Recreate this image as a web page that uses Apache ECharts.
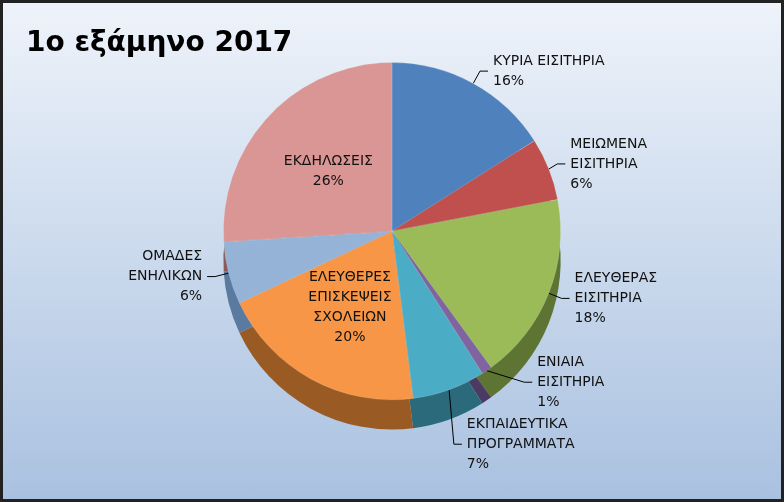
<!DOCTYPE html><html><head><meta charset="utf-8">
<script src="https://cdn.jsdelivr.net/npm/echarts@6/dist/echarts.min.js"></script>
<style>html,body{margin:0;padding:0}#c{width:784px;height:502px;box-sizing:border-box;border:3px solid #222;background:linear-gradient(#eef3fa,#a9c1e0)}</style>
</head><body><div id="c"></div><script>
const categories=['ΚΥΡΙΑ ΕΙΣΙΤΗΡΙΑ','ΜΕΙΩΜΕΝΑ\nΕΙΣΙΤΗΡΙΑ','ΕΛΕΥΘΕΡΑΣ\nΕΙΣΙΤΗΡΙΑ','ΕΝΙΑΙΑ\nΕΙΣΙΤΗΡΙΑ','ΕΚΠΑΙΔΕΥΤΙΚΑ\nΠΡΟΓΡΑΜΜΑΤΑ','ΕΛΕΥΘΕΡΕΣ\nΕΠΙΣΚΕΨΕΙΣ\nΣΧΟΛΕΙΩΝ','ΟΜΑΔΕΣ\nΕΝΗΛΙΚΩΝ','ΕΚΔΗΛΩΣΕΙΣ'];
const values=[16,6,18,1,7,20,6,26];
const colors=['#4f81bd','#c0504d','#9bbb59','#8064a2','#4bacc6','#f79646','#95b3d7','#d99694'];
const darks=['#2c4d74','#7a2d2b','#5d7433','#4b3a62','#2a6a7a','#9a5a24','#5a7aa0','#8a5a59'];
const chart=echarts.init(document.getElementById('c'));
chart.setOption({
 title:{text:'1ο εξάμηνο 2017',left:18,top:22,textStyle:{fontFamily:'DejaVu Sans',fontSize:28,fontWeight:'bold',color:'#000'}},
 series:[
 {type:'pie',silent:true,center:['50%','52%'],radius:['0%','68%'],startAngle:90,label:{show:false},labelLine:{show:false},
  data:values.map((v,i)=>({value:v,name:categories[i],itemStyle:{color:darks[i]}})),z:1},
 {type:'pie',center:['50%','46%'],radius:['0%','68%'],startAngle:90,
  itemStyle:{borderColor:'rgba(255,255,255,0.3)',borderWidth:0.5},
  label:{formatter:'{b}\n{d}%',fontFamily:'DejaVu Sans',fontSize:14,color:'#111',lineHeight:20,align:'center'},
  labelLine:{lineStyle:{color:'#000'},length:14,length2:8},
  data:values.map((v,i)=>({value:v,name:categories[i],itemStyle:{color:colors[i]},
   label:(i===5||i===7)?{position:'inside'}:{}})),z:2}
 ]
});
</script></body></html>
